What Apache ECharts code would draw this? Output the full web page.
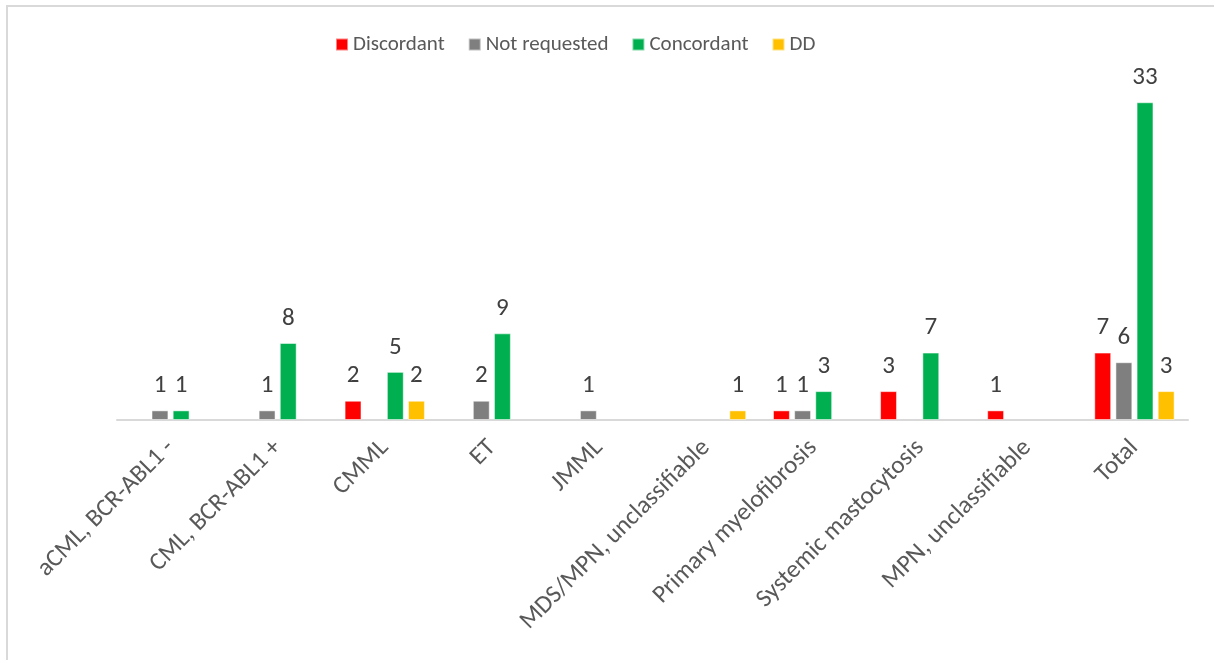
<!DOCTYPE html>
<html>
<head>
<meta charset="utf-8">
<style>
  html, body { margin: 0; padding: 0; background: #fff; }
  #chart { width: 1214px; height: 660px; }
</style>
<script src="https://cdn.jsdelivr.net/npm/echarts@6/dist/echarts.min.js"></script>
</head>
<body>
<div id="chart"></div>
<script>
// Diagnosis categories along the x axis
const categories = [
  'aCML, BCR-ABL1 -',
  'CML, BCR-ABL1 +',
  'CMML',
  'ET',
  'JMML',
  'MDS/MPN, unclassifiable',
  'Primary myelofibrosis',
  'Systemic mastocytosis',
  'MPN, unclassifiable',
  'Total'
];

// Case counts per result group (null = no cases)
const discordant   = [null, null, 2, null, null, null, 1, 3, 1, 7];
const notRequested = [1, 1, null, 2, 1, null, 1, null, null, 6];
const concordant   = [1, 8, 5, 9, null, null, 3, 7, null, 33];
const dd           = [null, null, 2, null, null, 1, null, null, null, 3];

const seriesNames = ['Discordant', 'Not requested', 'Concordant', 'DD'];
const seriesData = [discordant, notRequested, concordant, dd];
const seriesColors = ['#FF0000', '#7F7F7F', '#00B050', '#FFC000'];

const FONT = "Carlito, 'Open Sans', sans-serif";

const chart = echarts.init(document.getElementById('chart'), null, { renderer: 'canvas' });

chart.setOption({
  animation: false,
  backgroundColor: '#ffffff',
  graphic: [{
    type: 'rect',
    shape: { x: 7, y: 6, width: 1300, height: 720 },
    style: { fill: 'none', stroke: '#d9d9d9', lineWidth: 2 },
    silent: true
  }],
  legend: {
    top: 34,
    left: 335,
    padding: 0,
    itemWidth: 12,
    itemHeight: 12,
    itemGap: 23,
    icon: 'rect',
    textStyle: { fontFamily: FONT, fontSize: 21, color: '#595959' },
    data: seriesNames
  },
  grid: { left: 117, right: 26, top: 83, bottom: 240, containLabel: false },
  xAxis: {
    type: 'category',
    data: categories,
    axisLine: { show: true, lineStyle: { color: '#d9d9d9', width: 2 } },
    axisTick: { show: false },
    axisLabel: {
      rotate: 45,
      interval: 0,
      margin: 24,
      fontFamily: FONT,
      fontSize: 25,
      color: '#595959'
    }
  },
  yAxis: {
    type: 'value',
    min: 0,
    max: 35,
    show: false,
    splitLine: { show: false }
  },
  series: seriesNames.map((name, i) => ({
    name: name,
    type: 'bar',
    data: seriesData[i],
    barGap: '25%',
    barCategoryGap: '25%',
    itemStyle: { color: seriesColors[i], borderColor: 'rgba(255,255,255,0.5)', borderWidth: 1 },
    label: {
      show: true,
      position: 'top',
      distance: 12,
      fontFamily: FONT,
      fontSize: 25,
      color: '#404040'
    }
  }))
});
</script>
</body>
</html>
